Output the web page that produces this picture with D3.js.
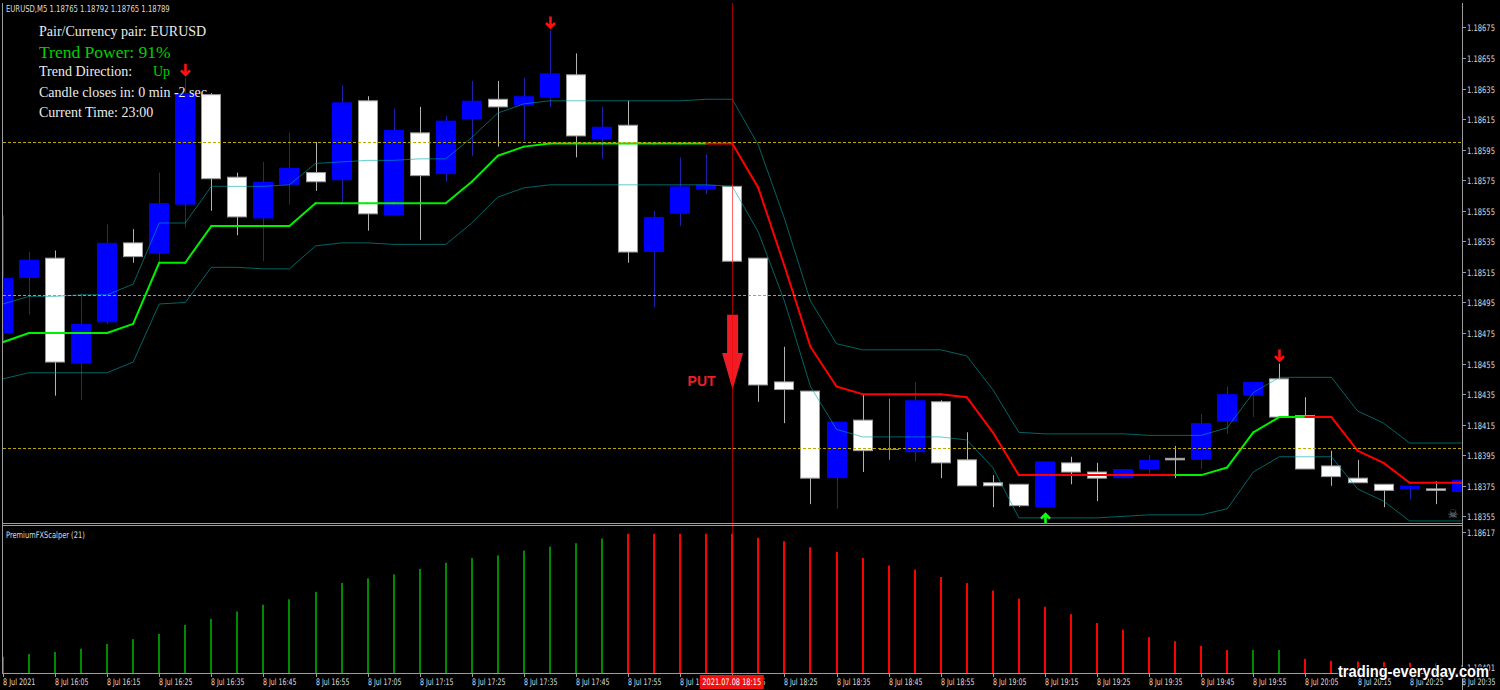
<!DOCTYPE html>
<html><head><meta charset="utf-8">
<script src="https://cdn.jsdelivr.net/npm/d3@7"></script>
<style>html,body{margin:0;padding:0;background:#000;overflow:hidden}</style>
</head><body><svg id="c" width="1500" height="690"></svg>
<script>
// ---------- DATA ----------
const barTimes = ["15:55","16:00","16:05","16:10","16:15","16:20","16:25","16:30","16:35","16:40",
"16:45","16:50","16:55","17:00","17:05","17:10","17:15","17:20","17:25","17:30",
"17:35","17:40","17:45","17:50","17:55","18:00","18:05","18:10","18:15","18:20",
"18:25","18:30","18:35","18:40","18:45","18:50","18:55","19:00","19:05","19:10",
"19:15","19:20","19:25","19:30","19:35","19:40","19:45","19:50","19:55","20:00",
"20:05","20:10","20:15","20:20","20:25","20:30","20:35"];

const openP = [1.18475,1.18511,1.18524,1.18455,1.18482,1.18534,1.18527,1.18559,1.18631,1.18577,
1.18550,1.18572,1.18580,1.18575,1.18627,1.18552,1.18606,1.18579,1.18615,1.18628,
1.18624,1.18629,1.18644,1.18602,1.18611,1.18528,1.18553,1.18569,1.18571,1.18524,
1.18443,1.18437,1.18380,1.18418,1.18399,1.18397,1.18430,1.18392,1.18377,1.18376,
1.18361,1.18390,1.18384,1.18380,1.18386,1.18393,1.18392,1.18417,1.18434,1.18445,
1.18421,1.18388,1.18380,1.18376,1.18373,1.18373,1.18371];
const highP = [1.18552,1.18528,1.18529,1.18501,1.18546,1.18543,1.18580,1.18642,1.18632,1.18580,
1.18587,1.18606,1.18600,1.18637,1.18630,1.18622,1.18623,1.18617,1.18640,1.18640,
1.18642,1.18673,1.18658,1.18623,1.18627,1.18555,1.18590,1.18592,1.18572,1.18524,
1.18466,1.18437,1.18417,1.18435,1.18432,1.18443,1.18431,1.18410,1.18382,1.18376,
1.18391,1.18394,1.18390,1.18386,1.18395,1.18401,1.18422,1.18440,1.18443,1.18455,
1.18433,1.18398,1.18392,1.18376,1.18375,1.18378,1.18380];
const lowP = [1.18470,1.18487,1.18434,1.18431,1.18481,1.18521,1.18521,1.18544,1.18555,1.18539,
1.18522,1.18559,1.18568,1.18560,1.18542,1.18552,1.18536,1.18574,1.18591,1.18597,
1.18601,1.18623,1.18590,1.18589,1.18521,1.18492,1.18545,1.18566,1.18521,1.18430,
1.18416,1.18363,1.18360,1.18384,1.18392,1.18391,1.18380,1.18375,1.18361,1.18361,
1.18361,1.18376,1.18365,1.18380,1.18383,1.18380,1.18386,1.18409,1.18420,1.18420,
1.18386,1.18375,1.18377,1.18361,1.18366,1.18363,1.18354];
const closeP = [1.18511,1.18523,1.18456,1.18481,1.18534,1.18525,1.18560,1.18632,1.18576,1.18551,
1.18574,1.18583,1.18574,1.18626,1.18553,1.18608,1.18578,1.18614,1.18627,1.18623,
1.18630,1.18645,1.18604,1.18610,1.18528,1.18551,1.18571,1.18572,1.18522,1.18441,
1.18438,1.18380,1.18417,1.18398,1.18399,1.18431,1.18390,1.18375,1.18375,1.18362,
1.18391,1.18384,1.18380,1.18386,1.18392,1.18392,1.18416,1.18435,1.18443,1.18420,
1.18386,1.18381,1.18377,1.18372,1.18375,1.18372,1.18379];

const trendLine = [1.18469,1.18475,1.18475,1.18475,1.18475,1.18481,1.18521,1.18521,1.18545,1.18545,
1.18545,1.18545,1.18560,1.18560,1.18560,1.18560,1.18560,1.18560,1.18574,1.18591,
1.18597,1.18599,1.18599,1.18599,1.18599,1.18599,1.18599,1.18599,1.18599,1.18570,
1.18519,1.18466,1.18440,1.18435,1.18435,1.18435,1.18435,1.18433,1.18410,1.18382,
1.18382,1.18382,1.18382,1.18382,1.18382,1.18382,1.18382,1.18387,1.18410,1.18420,
1.18420,1.18420,1.18398,1.18390,1.18377,1.18377,1.18377];
// 1 = up (green), -1 = down (red)
const trendDir = [1,1,1,1,1,1,1,1,1,1, 1,1,1,1,1,1,1,1,1,1, 1,1,1,1,1,1,1,1,-1,-1,
-1,-1,-1,-1,-1,-1,-1,-1,-1,-1, -1,-1,-1,-1,-1,-1,1,1,1,1, 1,-1,-1,-1,-1,-1,-1];

const upperBand = [1.18494,1.18499,1.18499,1.18500,1.18500,1.18507,1.18547,1.18547,1.18571,1.18571,
1.18571,1.18572,1.18586,1.18587,1.18588,1.18588,1.18589,1.18589,1.18603,1.18619,
1.18625,1.18627,1.18627,1.18627,1.18627,1.18627,1.18627,1.18628,1.18628,1.18598,
1.18550,1.18496,1.18468,1.18464,1.18464,1.18464,1.18464,1.18460,1.18438,1.18410,
1.18409,1.18409,1.18409,1.18409,1.18408,1.18408,1.18408,1.18413,1.18436,1.18446,
1.18446,1.18446,1.18424,1.18416,1.18403,1.18403,1.18403];
const lowerBand = [1.18445,1.18449,1.18449,1.18449,1.18449,1.18456,1.18494,1.18495,1.18518,1.18518,
1.18517,1.18517,1.18532,1.18534,1.18534,1.18533,1.18533,1.18533,1.18547,1.18564,
1.18570,1.18572,1.18572,1.18572,1.18572,1.18572,1.18572,1.18572,1.18571,1.18541,
1.18496,1.18440,1.18412,1.18407,1.18407,1.18407,1.18407,1.18405,1.18387,1.18354,
1.18354,1.18354,1.18354,1.18355,1.18356,1.18356,1.18356,1.18360,1.18384,1.18394,
1.18394,1.18394,1.18373,1.18365,1.18352,1.18352,1.18352];

const scalper = [1.18425,1.18429,1.18432,1.18437,1.18444,1.18451,1.18459,1.18472,1.18481,1.18492,
1.18502,1.18510,1.18521,1.18534,1.18541,1.18547,1.18555,1.18564,1.18571,1.18575,
1.18582,1.18588,1.18593,1.18600,1.18607,1.18607,1.18607,1.18607,1.18607,1.18601,
1.18596,1.18587,1.18580,1.18571,1.18560,1.18554,1.18543,1.18534,1.18523,1.18511,
1.18499,1.18488,1.18475,1.18465,1.18454,1.18448,1.18441,1.18435,1.18435,1.18435,
1.18422,1.18419,1.18418,1.18417,1.18416,1.18415,1.18413];
const scalperDir = [1,1,1,1,1,1,1,1,1,1, 1,1,1,1,1,1,1,1,1,1, 1,1,1,1,-1,-1,-1,-1,-1,-1,
-1,-1,-1,-1,-1,-1,-1,-1,-1,-1, -1,-1,-1,-1,-1,-1,-1,-1,1,1, -1,-1,-1,-1,-1,-1,-1];

const sellSignals = ["16:30","17:40","20:00"];
const buySignals = ["19:15"];
const levels = [1.18600, 1.18500, 1.18400];
const signalTime = "18:15";
const putArrow = {time:"18:15", top:1.18487, headStart:1.18462, tip:1.18438};

const priceTicks = [1.18675,1.18655,1.18635,1.18615,1.18595,1.18575,1.18555,1.18535,1.18515,
1.18495,1.18475,1.18455,1.18435,1.18415,1.18395,1.18375,1.18355];
const tickTimes = ["15:55","16:05","16:15","16:25","16:35","16:45","16:55","17:05","17:15","17:25",
"17:35","17:45","17:55","18:05","18:15","18:25","18:35","18:45","18:55","19:05",
"19:15","19:25","19:35","19:45","19:55","20:05","20:15","20:25","20:35"];
const tickLabels = ["8 Jul 2021","8 Jul 16:05","8 Jul 16:15","8 Jul 16:25","8 Jul 16:35","8 Jul 16:45",
"8 Jul 16:55","8 Jul 17:05","8 Jul 17:15","8 Jul 17:25","8 Jul 17:35","8 Jul 17:45","8 Jul 17:55",
"8 Jul 18:05","8 Jul 18:15","8 Jul 18:25","8 Jul 18:35","8 Jul 18:45","8 Jul 18:55","8 Jul 19:05",
"8 Jul 19:15","8 Jul 19:25","8 Jul 19:35","8 Jul 19:45","8 Jul 19:55","8 Jul 20:05","8 Jul 20:15",
"8 Jul 20:25","8 Jul 20:35"];
const subMax = 1.18617, subMin = 1.18401;

const infoLines = [
  {t:"Pair/Currency pair: EURUSD", c:"#ececec", s:14, y:36},
  {t:"Trend Power: 91%", c:"#00d000", s:17.5, y:58},
  {t:"Trend Direction:", c:"#ececec", s:14, y:76},
  {t:"Candle closes in: 0 min -2 sec", c:"#ececec", s:14, y:96.5},
  {t:"Current Time: 23:00", c:"#ececec", s:14, y:116.5}
];

// ---------- SCALES ----------
const svg = d3.select("#c");
svg.append("rect").attr("width",1500).attr("height",690).attr("fill","#000");
const defs = svg.append("defs");
defs.append("clipPath").attr("id","mainClip").append("rect").attr("x",3).attr("y",3).attr("width",1459).attr("height",520);
defs.append("clipPath").attr("id","subClip").append("rect").attr("x",3).attr("y",526).attr("width",1459).attr("height",147);

const x = d3.scalePoint().domain(barTimes).range([2.9, 1461.7]);
const y = d3.scaleLinear().domain([1.18350, 1.18691]).range([524, 3]);
const hy = d3.scaleLinear().domain([subMin, subMax]).range([673, 527]);

const main = svg.append("g").attr("clip-path","url(#mainClip)");
const sub = svg.append("g").attr("clip-path","url(#subClip)");

// helper: small text squeezed horizontally to a measured width
const small = "DejaVu Sans, Verdana, sans-serif";
const lab = "#dcdcdc";
function fitText(g, str, x0, y0, width, o={}) {
  const t = g.append("text").text(str)
    .attr("fill", o.fill || lab)
    .attr("font-family", o.family || small)
    .attr("font-size", o.size || 9)
    .attr("font-weight", o.weight || "normal");
  if (o.stroke) t.attr("stroke", o.stroke).attr("stroke-width", o.sw).attr("paint-order","stroke");
  const w = t.node().getComputedTextLength() || width;
  t.attr("transform", `translate(${x0},${y0}) scale(${width / w},1)`);
  return t;
}

// ---------- CANDLES ----------
barTimes.forEach((t,i)=>{
  const o=openP[i], h=highP[i], l=lowP[i], c=closeP[i];
  const cx = Math.round(x(t));
  const bull = c>o, doji = c===o;
  const wick = doji ? "#00e000" : bull ? "#2020b0" : "#b4b4b4";
  main.append("line").attr("x1",cx+0.5).attr("x2",cx+0.5)
    .attr("y1",y(h)).attr("y2",y(l)).attr("stroke",wick).attr("stroke-width",1);
  const top = y(Math.max(o,c)), bot = y(Math.min(o,c));
  if (doji) {
    main.append("line").attr("x1",cx-10).attr("x2",cx+10).attr("y1",Math.round(top)+0.5).attr("y2",Math.round(top)+0.5)
      .attr("stroke","#00e000").attr("stroke-width",1);
  } else if (bull) {
    main.append("rect").attr("x",cx-10).attr("width",20).attr("y",top).attr("height",Math.max(1,bot-top)).attr("fill","#0000ff");
  } else {
    main.append("rect").attr("x",cx-9.5).attr("width",19).attr("y",top).attr("height",Math.max(1,bot-top))
      .attr("fill","#ffffff").attr("stroke","#9a9a9a").attr("stroke-width",1);
  }
});

// ---------- BANDS ----------
const lg = d3.line().x((d,i)=>x(barTimes[i])).y(d=>y(d));
[upperBand, lowerBand].forEach(b=>{
  main.append("path").attr("d",lg(b)).attr("fill","none").attr("stroke","#00a8a8")
    .attr("stroke-opacity",0.6).attr("stroke-width",1);
});

// ---------- TREND LINE ----------
for (let i=1;i<trendLine.length;i++){
  main.append("line").attr("x1",x(barTimes[i-1])).attr("x2",x(barTimes[i]))
    .attr("y1",y(trendLine[i-1])).attr("y2",y(trendLine[i]))
    .attr("stroke", trendDir[i]>0 ? "#00f000" : "#ff0000").attr("stroke-width",2).attr("stroke-linecap","round");
}

// ---------- LEVELS ----------
levels.forEach(v=>{
  main.append("line").attr("x1",3).attr("x2",1462).attr("y1",Math.round(y(v))+0.5).attr("y2",Math.round(y(v))+0.5)
    .attr("stroke","#b8aa00").attr("stroke-dasharray","3,2").attr("stroke-width",1);
});

// ---------- SIGNAL ARROWS ----------
sellSignals.forEach(t=>{
  const i = barTimes.indexOf(t);
  const cx = Math.round(x(t))+0.5, b = y(highP[i]) - 2;
  main.append("path").attr("d",`M${cx},${b-12}L${cx},${b-1}M${cx-4.5},${b-5.5}L${cx},${b-1}L${cx+4.5},${b-5.5}`)
    .attr("fill","none").attr("stroke","#ff1010").attr("stroke-width",2.6);
});
buySignals.forEach(t=>{
  const i = barTimes.indexOf(t);
  const cx = Math.round(x(t))+0.5, tp = y(lowP[i]) + 6;
  main.append("path").attr("d",`M${cx},${tp+12}L${cx},${tp+1}M${cx-4.5},${tp+5.5}L${cx},${tp+1}L${cx+4.5},${tp+5.5}`)
    .attr("fill","none").attr("stroke","#10ff10").attr("stroke-width",2.6);
});

// ---------- PUT ARROW ----------
{
  const cx = x(putArrow.time)+0.3;
  main.append("path").attr("d",
    `M${cx-5.5},${y(putArrow.top)}L${cx+5.5},${y(putArrow.top)}L${cx+5.5},${y(putArrow.headStart)}L${cx+10.5},${y(putArrow.headStart)}L${cx},${y(putArrow.tip)}L${cx-10.5},${y(putArrow.headStart)}L${cx-5.5},${y(putArrow.headStart)}Z`)
    .attr("fill","#ee1c25");
  main.append("text").attr("x",cx-45).attr("y",y(putArrow.tip)-3.5).text("PUT")
    .attr("fill","#e8202a").attr("font-family","Liberation Sans, Arial, sans-serif").attr("font-weight","bold").attr("font-size",14);
}

// ---------- SUB HISTOGRAM ----------
barTimes.forEach((t,i)=>{
  const cx = Math.round(x(t));
  sub.append("rect").attr("x",cx-1).attr("width",2).attr("y",hy(scalper[i])).attr("height",hy(subMin)-hy(scalper[i]))
    .attr("fill", scalperDir[i]>0 ? "#008a00" : "#ff0000");
});

// ---------- VERTICAL SIGNAL LINE ----------
svg.append("line").attr("x1",Math.round(x(signalTime))+0.5).attr("x2",Math.round(x(signalTime))+0.5)
  .attr("y1",3).attr("y2",673).attr("stroke","#ff0000").attr("stroke-opacity",0.6).attr("stroke-width",1);

// ---------- FRAMES ----------
const fc = "#9c9c9c";
const fr = svg.append("g").attr("stroke",fc).attr("stroke-width",1);
fr.append("line").attr("x1",2.5).attr("x2",2.5).attr("y1",3).attr("y2",673);
fr.append("line").attr("x1",1462.5).attr("x2",1462.5).attr("y1",3).attr("y2",690);
fr.append("line").attr("x1",2).attr("x2",1463).attr("y1",523.5).attr("y2",523.5);
fr.append("line").attr("x1",2).attr("x2",1463).attr("y1",525.5).attr("y2",525.5);
fr.append("line").attr("x1",2).attr("x2",1463).attr("y1",673.5).attr("y2",673.5);

// price axis
priceTicks.forEach(v=>{
  const yy = Math.round(y(v))+0.5;
  svg.append("line").attr("x1",1463).attr("x2",1466).attr("y1",yy).attr("y2",yy).attr("stroke",fc);
  fitText(svg, v.toFixed(5), 1467, yy+3.5, 28);
});
svg.append("line").attr("x1",1463).attr("x2",1466).attr("y1",532.5).attr("y2",532.5).attr("stroke",fc);
fitText(svg, subMax.toFixed(5), 1467, 536, 28);
fitText(svg, subMin.toFixed(5), 1467, 670.5, 28);

// time axis
const boxX = x(signalTime) - 32.5, boxW = 64;
defs.append("clipPath").attr("id","leftOfBox").append("rect").attr("x",0).attr("y",670).attr("width",boxX).attr("height",20);
defs.append("clipPath").attr("id","rightOfBox").append("rect").attr("x",boxX+boxW).attr("y",670).attr("width",1500).attr("height",20);
const axisG = svg.append("g");
tickTimes.forEach((t,k)=>{
  const xx = Math.round(x(t))+0.5;
  axisG.append("line").attr("x1",xx).attr("x2",xx).attr("y1",674).attr("y2",677).attr("stroke",fc);
  let g = axisG;
  if (t === "18:05") g = axisG.append("g").attr("clip-path","url(#leftOfBox)");
  if (t === signalTime) g = axisG.append("g").attr("clip-path","url(#rightOfBox)");
  fitText(g, tickLabels[k], xx-0.5, 684.5, k===0 ? 32.5 : 33.5);
});
svg.append("rect").attr("x",boxX).attr("y",675).attr("width",boxW).attr("height",14).attr("fill","#f01010");
fitText(svg, "2021.07.08 " + signalTime, boxX+2.5, 685, 59, {fill:"#ffffff"});

// header texts
fitText(svg, "EURUSD,M5  1.18765 1.18792 1.18765 1.18789", 6, 11.5, 164);
fitText(svg, "PremiumFXScalper (21)", 6, 537.5, 79);

// info block
infoLines.forEach(d=>{
  svg.append("text").attr("x",39).attr("y",d.y).text(d.t).attr("fill",d.c)
    .attr("font-family","Liberation Serif, DejaVu Serif, serif").attr("font-size",d.s);
});
svg.append("text").attr("x",153).attr("y",76).text("Up").attr("fill","#00d000")
  .attr("font-family","Liberation Serif, DejaVu Serif, serif").attr("font-size",14);

// skull icon
svg.append("text").attr("x",1453).attr("y",518).text("☠").attr("fill","#8a8a8a").attr("text-anchor","middle")
  .attr("font-family",small).attr("font-size",12);

// watermark
fitText(svg, "trading-everyday.com", 1338, 677, 151,
  {fill:"#ffffff", family:"Liberation Sans, Arial, sans-serif", weight:"bold", size:16, stroke:"#000", sw:2.5});
</script>
</body></html>
